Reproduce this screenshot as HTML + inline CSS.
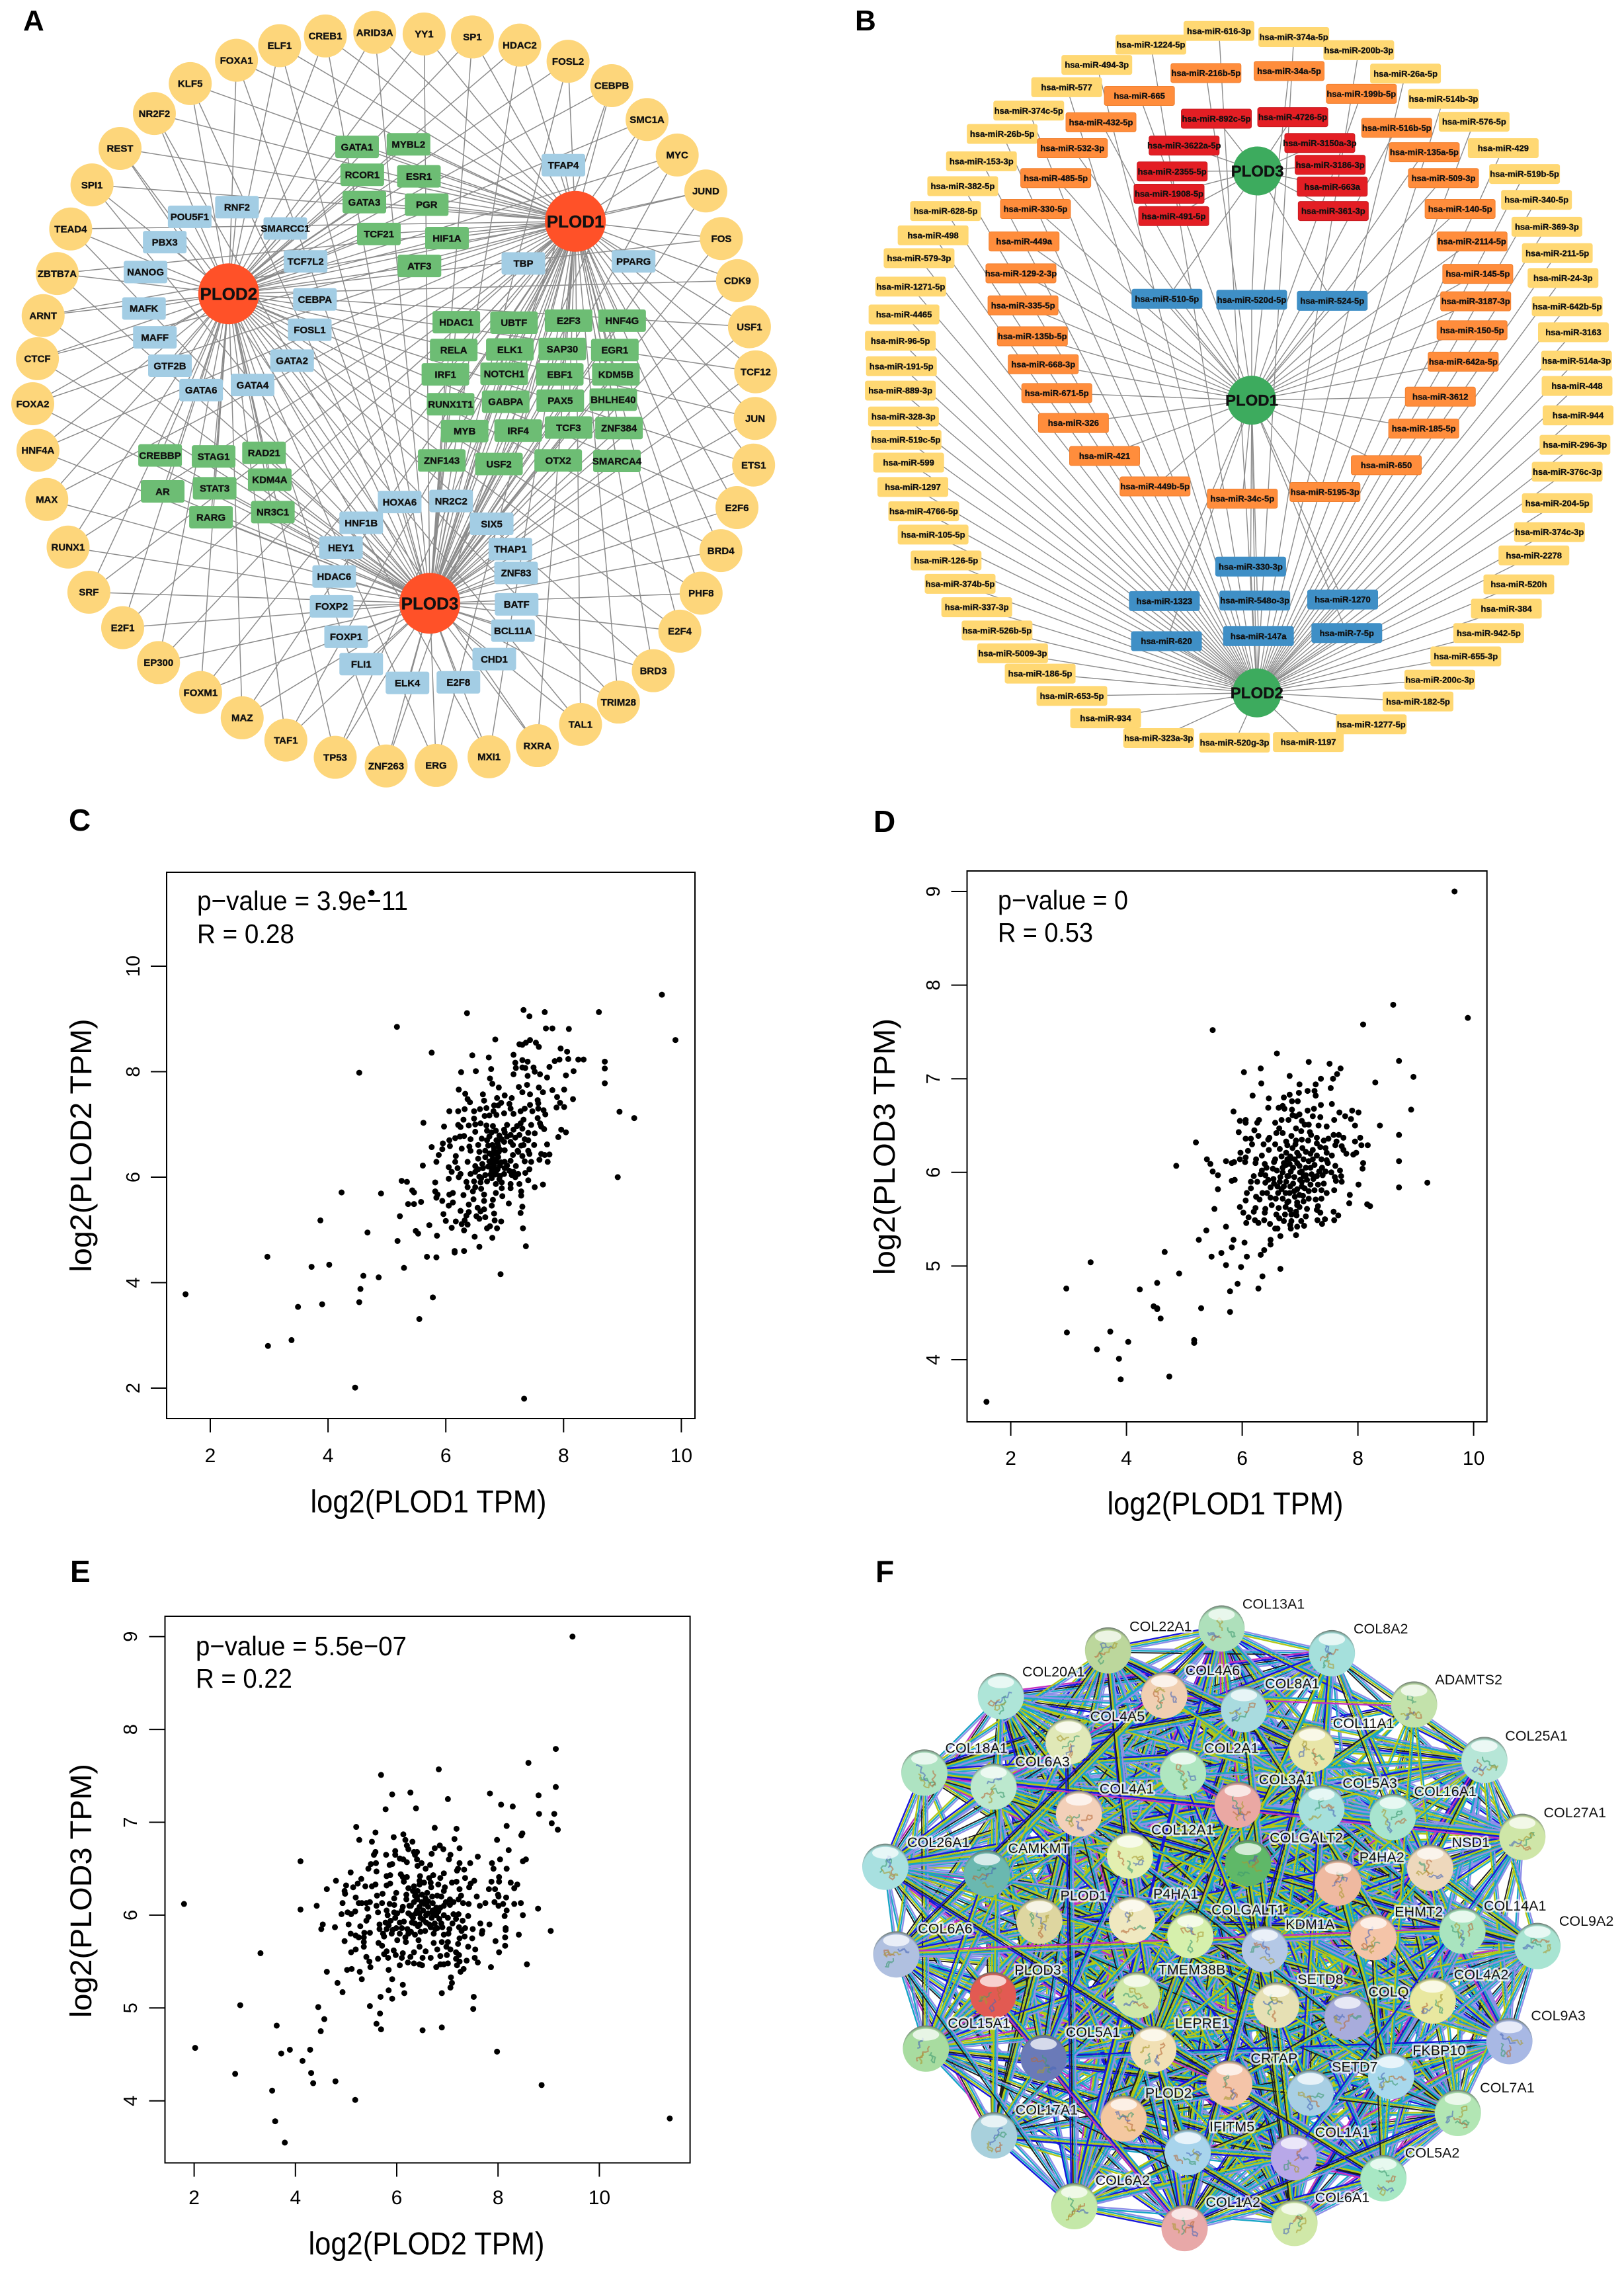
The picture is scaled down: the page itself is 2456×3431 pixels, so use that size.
<!DOCTYPE html>
<html lang="en">
<head>
<meta charset="utf-8">
<title>PLOD network and correlation figure</title>
<style>
html,body{margin:0;padding:0;background:#fff;width:2456px;height:3431px;overflow:hidden}
svg{display:block}
text{font-family:"Liberation Sans",Arial,sans-serif}
</style>
</head>
<body>
<svg id="figure" xmlns="http://www.w3.org/2000/svg" width="2456" height="3431" viewBox="0 0 2456 3431">
<defs id="defs"></defs>
<rect width="2456" height="3431" fill="#ffffff"/>
<g id="panelA"></g>
<g id="panelB"></g>
<g id="panelC"></g>
<g id="panelD"></g>
<g id="panelE"></g>
<g id="panelF"></g>
<text x="35" y="46" font-size="44" font-weight="bold">A</text>
<text x="1293" y="46" font-size="44" font-weight="bold">B</text>
<text x="104" y="1256" font-size="46" font-weight="bold">C</text>
<text x="1321" y="1258" font-size="46" font-weight="bold">D</text>
<text x="106" y="2392" font-size="46" font-weight="bold">E</text>
<text x="1324" y="2392" font-size="46" font-weight="bold">F</text>
</svg>
<script>
// ---------- Scatter data (values in log2 TPM) ----------
const xTicksC = [2,4,6,8,10];
const yTicksC = [2,4,6,8,10];
const xTicksD = [2,4,6,8,10];
const yTicksD = [4,5,6,7,8,9];
const xTicksE = [2,4,6,8,10];
const yTicksE = [4,5,6,7,8,9];

const pointsC = [[1.58,3.78],[2.97,4.49],[2.98,2.80],[3.38,2.91],[3.49,3.54],[3.72,4.30],[3.90,3.59],[3.87,5.18],[4.02,4.34],[4.23,5.71],[4.46,2.01],[4.53,7.98],[4.53,3.63],[4.55,3.88],[4.60,4.13],[4.67,4.95],[4.74,11.39],[4.86,4.10],[4.90,5.69],[5.17,8.85],[5.18,4.79],[5.22,5.26],[5.25,5.93],[5.29,4.28],[5.53,4.93],[5.55,3.31],[5.62,7.03],[5.76,8.36],[5.78,3.72],[6.36,9.11],[7.32,9.17],[7.42,9.05],[7.68,9.13],[8.60,9.13],[9.67,9.46],[9.90,8.60],[7.33,1.80],[8.92,6.00],[8.95,7.24],[9.20,7.12],[8.70,8.19],[8.70,8.06],[8.70,7.78],
[7.70,8.82],[7.81,8.82],[8.09,8.81],[6.84,8.61],[7.25,8.52],[7.30,8.51],[7.36,8.55],[7.43,8.60],[7.53,8.55],[7.58,8.47],[7.95,8.44],[8.06,8.38],[6.45,8.31],[6.73,8.27],[7.15,8.32],[7.18,8.17],[7.30,8.22],[7.39,8.19],[7.19,8.07],[7.30,8.08],[7.35,8.07],[7.49,8.08],[7.51,8.00],[7.15,7.95],[7.39,7.92],[7.60,7.95],[7.72,7.89],[7.76,8.09],[7.85,8.20],[7.93,8.23],[8.08,8.24],[8.25,8.23],[8.34,8.23],[8.04,7.93],[8.17,8.01],[6.26,7.99],[6.51,8.01],[6.77,8.05],[6.75,7.87],[6.79,7.77],[6.90,7.70],[7.24,7.71],[7.38,7.75],[7.30,7.61],[7.43,7.57],[7.58,7.70],[7.65,7.61],[7.81,7.65],[8.01,7.66],[7.89,7.52],[8.16,7.48],[7.94,7.41],[8.01,7.33],[7.88,7.32],[6.22,7.66],[6.33,7.58],[6.37,7.48],[6.41,7.42],[6.63,7.57],[6.65,7.45],[6.87,7.50],[7.00,7.55],[7.12,7.50],[7.56,7.46],[7.57,7.40],[6.94,7.41],[7.08,7.39],[6.82,7.36],[6.89,7.36],[6.69,7.31],[6.58,7.29],[6.32,7.29],[6.21,7.25],[6.06,7.25],[6.48,7.25],[6.81,7.25],[7.10,7.30],[7.27,7.25],[7.34,7.30],[7.43,7.37],[7.47,7.25],[7.57,7.30],[7.66,7.27],[7.69,7.19],[6.66,7.16],[6.74,7.17],[6.86,7.18],[6.99,7.21],[7.15,7.20],[6.48,7.11],[6.30,7.09],[7.56,7.12],[7.60,7.02],[7.62,6.96],[7.67,6.91],[7.32,7.09],[7.27,7.02],[7.45,6.99],[6.59,7.02],[6.39,6.98],[6.21,6.99],[6.25,6.95],[5.97,6.96],[6.50,7.00],[6.69,6.98],[6.80,6.97],[7.04,6.99],[7.21,6.97],[7.96,6.90],[8.04,6.85],[7.91,6.76],[6.50,6.86],[6.70,6.88],[6.85,6.88],[6.99,6.90],[7.15,6.90],[7.30,6.92],[6.74,6.77],[6.91,6.79],[7.04,6.77],[7.25,6.80],[7.40,6.84],[7.51,6.83],[6.16,6.74],[6.24,6.77],[6.31,6.78],[6.06,6.70],[5.95,6.64],[6.07,6.59],[6.42,6.72],[6.61,6.73],[6.99,6.67],[7.10,6.67],[7.34,6.72],[7.40,6.70],[5.76,6.57],[5.94,6.53],[6.27,6.54],[6.40,6.58],[6.55,6.61],[6.79,6.61],[6.89,6.59],[7.14,6.61],[7.32,6.61],[7.50,6.61],[7.72,6.62],[5.88,6.42],[6.17,6.40],[6.42,6.50],[6.57,6.48],[6.67,6.50],[6.82,6.50],[7.00,6.51],[7.40,6.50],[6.78,6.42],[6.55,6.35],[6.67,6.38],[6.89,6.38],[7.14,6.42],[7.23,6.48],[7.30,6.40],[7.42,6.44],[7.62,6.44],[7.68,6.42],[7.76,6.43],[7.59,6.33],[7.73,6.29],[5.84,6.29],[5.61,6.22],[6.16,6.29],[6.37,6.29],[6.78,6.27],[7.00,6.29],[7.10,6.31],[7.34,6.30],[7.45,6.29],[6.05,6.19],[6.20,6.17],[6.50,6.21],[6.63,6.17],[6.80,6.17],[7.00,6.17],[7.19,6.21],[7.42,6.15],[7.35,6.08],[6.10,6.10],[6.25,6.06],[6.42,6.06],[6.50,6.10],[6.67,6.04],[6.85,6.08],[6.99,6.06],[7.12,6.04],[7.23,6.06],[6.05,5.97],[6.22,6.00],[6.57,6.01],[6.78,5.98],[6.91,5.96],[5.82,5.90],[6.35,5.91],[6.48,5.92],[6.59,5.90],[6.70,5.92],[6.85,5.87],[6.95,5.90],[7.10,5.87],[7.25,5.87],[7.40,5.94],[6.37,5.81],[6.50,5.81],[6.60,5.78],[6.95,5.79],[7.10,5.79],[7.51,5.81],[7.65,5.86],[5.82,5.73],[6.46,5.73],[7.28,5.73],[5.86,5.67],[6.06,5.67],[6.12,5.70],[6.30,5.66],[6.65,5.67],[6.85,5.70],[6.96,5.64],[7.28,5.65],[5.84,5.61],[6.47,5.58],[6.80,5.57],[6.65,5.55],[5.34,5.91],[5.43,5.75],[5.46,5.71],[5.36,5.49],[5.46,5.49],[5.58,5.53],[5.94,5.55],[6.12,5.52],[6.05,5.46],[6.39,5.48],[6.78,5.46],[7.07,5.50],[7.30,5.44],[6.54,5.42],[6.65,5.39],[6.25,5.36],[6.39,5.34],[6.59,5.35],[7.27,5.32],[5.96,5.30],[6.35,5.27],[6.82,5.31],[6.52,5.26],[6.57,5.21],[6.67,5.24],[6.00,5.17],[6.17,5.16],[6.32,5.18],[6.83,5.18],[6.94,5.16],[6.27,5.11],[6.37,5.10],[5.72,5.09],[6.10,5.04],[6.70,5.03],[6.75,5.07],[6.87,5.03],[7.31,5.03],[6.31,4.99],[5.49,4.98],[5.85,4.89],[6.49,4.87],[6.79,4.85],[6.57,4.68],[7.36,4.69],[6.15,4.60],[6.15,4.57],[6.31,4.60],[5.68,4.49],[5.84,4.48],[6.93,4.16],
[6.82,6.55],[6.84,6.45],[6.80,6.35],[6.86,6.30],[6.82,6.22],[6.78,6.12],[6.84,6.05],[6.88,6.15],[6.74,6.45],[6.90,6.48],[7.04,6.22],[7.08,6.12],[7.15,6.10],[7.18,6.00],[6.60,5.98],[6.62,6.25],[6.55,6.15],[6.70,6.70],[6.86,6.70],[6.95,6.72],[6.78,6.85],[7.10,6.80],[7.00,6.85],[7.18,6.75],[7.28,6.60],[7.22,6.50],[6.94,6.28],[6.72,6.60],[6.92,6.52],[6.74,6.30],[6.92,6.22],[6.72,6.20],[6.92,6.02],[6.76,6.05],[6.88,6.65]];

const pointsD = [[1.58,3.55],[2.96,4.76],[2.97,4.29],[3.38,5.04],[3.49,4.11],[3.72,4.30],[3.87,4.01],[3.90,3.79],[4.03,4.19],[4.23,4.75],[4.47,4.57],[4.53,4.82],[4.53,4.55],[4.53,4.54],[4.59,4.44],[4.66,5.15],[4.74,3.82],[4.86,6.07],[4.91,4.92],[5.17,4.21],[5.17,4.18],[5.20,6.32],[5.25,5.28],[5.29,4.55],[5.38,5.38],[5.49,7.52],[5.79,4.51],[5.79,4.73],[5.92,4.81],[5.72,5.01],[5.64,5.14],[5.47,5.10],[6.28,4.76],[6.35,4.89],[6.66,4.97],[5.98,4.99],[8.61,7.79],[8.09,7.58],[9.67,9.00],[9.90,7.65],[8.71,7.19],[8.96,7.02],[8.92,6.67],[9.20,5.89],[8.71,6.40],[8.71,6.12],[8.71,5.84],[8.38,6.50],[8.21,5.64],[8.30,6.96],
[6.60,7.27],[7.15,7.18],[7.51,7.16],[7.70,7.11],[7.64,7.05],[7.57,7.00],[7.36,7.00],[6.03,7.07],[6.32,7.11],[6.33,6.95],[6.82,7.03],[6.99,6.94],[7.27,6.94],[7.53,6.90],[7.13,6.87],[7.25,6.87],[6.98,6.85],[7.27,6.82],[6.18,6.82],[6.46,6.79],[6.72,6.80],[6.82,6.83],[6.86,6.76],[6.96,6.76],[7.36,6.72],[7.55,6.73],[6.45,6.69],[6.63,6.69],[6.70,6.71],[6.73,6.68],[6.86,6.67],[7.24,6.68],[7.13,6.66],[7.68,6.64],[7.90,6.66],[8.01,6.64],[5.85,6.65],[7.78,6.60],[7.88,6.57],[7.59,6.56],[7.22,6.60],[7.35,6.59],[6.87,6.61],[6.99,6.62],[6.93,6.60],[5.96,6.55],[6.06,6.56],[6.06,6.53],[6.29,6.56],[6.26,6.53],[6.57,6.53],[6.68,6.56],[6.80,6.56],[7.03,6.55],[7.08,6.51],[7.15,6.51],[7.32,6.50],[7.46,6.49],[7.95,6.50],[6.21,6.45],[5.94,6.43],[6.64,6.47],[6.93,6.47],[7.02,6.44],[7.17,6.43],[6.70,6.42],[6.59,6.42],[6.28,6.39],[6.06,6.36],[6.15,6.36],[6.47,6.37],[6.85,6.39],[7.19,6.40],[7.58,6.40],[7.67,6.40],[7.75,6.37],[8.04,6.37],[6.17,6.30],[6.37,6.30],[6.45,6.35],[6.57,6.30],[6.76,6.33],[6.93,6.34],[7.03,6.35],[7.14,6.34],[7.29,6.37],[7.41,6.34],[7.49,6.36],[7.63,6.33],[7.95,6.33],[8.06,6.29],[8.17,6.29],[7.61,6.29],[7.72,6.28],[7.29,6.31],[6.78,6.29],[6.46,6.24],[6.10,6.23],[6.87,6.26],[7.04,6.26],[7.22,6.24],[7.35,6.27],[7.44,6.26],[7.75,6.24],[5.97,6.21],[6.76,6.21],[6.95,6.21],[7.46,6.21],[7.80,6.20],[7.92,6.19],[7.97,6.21],[6.34,6.18],[6.06,6.16],[5.96,6.14],[6.68,6.17],[6.83,6.17],[7.18,6.20],[7.29,6.18],[7.55,6.18],[6.24,6.14],[5.72,6.12],[5.86,6.11],[5.82,6.10],[6.05,6.11],[6.57,6.14],[6.91,6.14],[7.06,6.14],[7.22,6.14],[7.37,6.14],[7.46,6.13],[6.23,6.10],[6.39,6.09],[6.55,6.11],[6.82,6.09],[7.48,6.10],[8.09,6.10],[5.45,6.09],[5.39,6.14],[5.49,6.01],[5.58,5.97],[5.58,5.82],[5.52,5.61],[5.72,5.42],[7.61,6.07],[6.42,6.05],[6.53,6.04],[6.70,6.05],[6.99,6.07],[7.10,6.05],[8.08,6.04],[6.34,6.02],[6.70,6.00],[6.84,6.01],[7.03,6.01],[7.33,6.01],[7.44,6.01],[7.54,6.00],[7.69,6.02],[6.32,5.98],[6.40,5.97],[6.20,5.96],[6.66,5.95],[6.80,5.96],[7.10,5.97],[7.29,5.96],[7.39,5.97],[7.60,5.95],[7.71,5.96],[5.82,5.91],[5.87,5.92],[6.54,5.93],[6.15,5.90],[6.26,5.90],[6.40,5.89],[6.76,5.90],[7.03,5.90],[7.23,5.93],[7.62,5.91],[7.72,5.90],[8.01,5.87],[6.15,5.83],[6.49,5.84],[6.61,5.85],[6.72,5.85],[6.83,5.85],[7.03,5.85],[7.18,5.87],[7.31,5.87],[7.41,5.88],[6.08,5.78],[6.35,5.78],[6.43,5.78],[6.62,5.78],[6.82,5.78],[6.99,5.76],[7.08,5.83],[7.25,5.81],[7.37,5.81],[7.46,5.78],[7.59,5.81],[7.86,5.76],[6.24,5.74],[6.06,5.70],[6.30,5.71],[6.49,5.73],[6.70,5.72],[6.91,5.74],[7.06,5.69],[7.27,5.71],[7.37,5.72],[7.85,5.67],[8.16,5.66],[6.51,5.65],[6.80,5.69],[6.95,5.65],[7.31,5.64],[5.96,5.63],[6.23,5.62],[6.40,5.61],[6.63,5.62],[6.75,5.63],[6.99,5.63],[7.12,5.61],[7.29,5.60],[6.02,5.57],[6.20,5.58],[6.39,5.57],[6.83,5.60],[6.93,5.58],[7.35,5.57],[7.58,5.58],[6.11,5.52],[6.59,5.55],[6.74,5.55],[6.85,5.55],[6.94,5.54],[7.10,5.53],[7.66,5.54],[6.07,5.46],[6.22,5.49],[6.28,5.46],[6.38,5.49],[6.48,5.45],[6.64,5.51],[6.72,5.48],[6.85,5.48],[7.02,5.48],[7.30,5.49],[7.43,5.50],[7.59,5.49],[6.83,5.44],[7.38,5.45],[6.95,5.42],[7.07,5.43],[6.84,5.40],[6.57,5.40],[6.61,5.40],[6.93,5.33],[6.66,5.32],[6.49,5.28],[6.49,5.23],[5.85,5.28],[6.04,5.25],[5.82,5.20],[6.38,5.17],[6.32,5.12],[6.08,5.10],
[6.60,6.02],[6.76,6.08],[6.88,6.05],[6.95,6.10],[7.00,6.00],[7.06,5.96],[6.90,5.95],[6.78,5.96],[6.65,5.90],[6.88,5.88],[6.95,5.82],[7.12,5.92],[7.15,5.80],[6.68,5.82],[6.55,5.88],[6.75,5.78],[6.90,5.80],[7.05,5.75],[7.20,5.98],[7.18,6.05],[7.25,6.08],[6.85,6.15],[6.98,6.18],[6.78,6.14],[6.92,6.30],[7.10,6.22],[6.58,5.72],[6.78,5.68],[6.45,5.92],[6.95,5.68],[7.00,5.92],[7.15,6.12],[6.72,6.10],[6.65,6.25],[7.38,6.05],[7.15,5.72]];

const pointsE = [[1.80,6.12],[2.02,4.57],[2.81,4.29],[2.91,5.03],[3.31,5.59],[3.54,4.11],[3.60,3.78],[3.63,4.81],[3.72,4.51],[3.79,3.55],[3.89,4.55],[4.10,6.58],[4.10,6.06],[4.14,4.43],[4.29,4.55],[4.31,4.30],[4.35,4.19],[4.45,5.01],[4.57,4.88],[4.50,4.75],[4.79,4.21],[5.18,4.01],[9.47,9.00],[9.14,7.79],[8.60,7.64],[9.14,7.38],[8.80,7.29],[8.81,7.09],[9.11,7.09],[9.06,6.99],[9.18,6.92],[11.39,3.81],[8.86,4.17],[7.98,4.53],[9.04,5.83],[8.79,6.07],[8.57,5.47],[5.69,7.51],[6.83,7.57],[6.27,7.32],[5.91,7.30],[7.01,7.25],[7.84,7.31],[8.06,7.19],[8.29,7.17],[6.38,7.15],[5.78,7.14],
[5.20,6.95],[5.58,6.89],[5.26,6.81],[5.51,6.79],[5.94,6.84],[6.13,6.87],[6.17,6.81],[6.31,6.79],[6.20,6.75],[6.23,6.71],[6.75,6.94],[7.18,6.93],[7.14,6.82],[7.98,6.81],[8.17,6.96],[8.48,6.88],[8.46,6.86],[6.85,6.75],[6.75,6.72],[6.92,6.71],[6.69,6.66],[7.24,6.72],[8.21,6.70],[5.58,6.68],[5.55,6.65],[5.79,6.65],[5.97,6.69],[5.97,6.65],[6.34,6.68],[6.40,6.68],[6.06,6.61],[6.13,6.60],[6.20,6.57],[6.36,6.65],[6.40,6.60],[7.06,6.65],[7.03,6.60],[7.60,6.63],[8.04,6.60],[8.55,6.60],[8.49,6.58],[7.45,6.56],[7.88,6.56],[7.24,6.56],[5.49,6.55],[5.59,6.56],[5.44,6.50],[5.86,6.54],[5.91,6.55],[5.60,6.47],[6.49,6.56],[6.41,6.53],[6.57,6.50],[6.66,6.54],[7.21,6.50],[7.33,6.49],[7.91,6.50],[8.17,6.50],[5.09,6.46],[7.19,6.48],[5.80,6.42],[5.87,6.43],[6.08,6.44],[6.12,6.41],[6.20,6.41],[6.46,6.42],[6.64,6.40],[6.72,6.43],[6.93,6.45],[6.86,6.40],[7.35,6.40],[8.02,6.41],[5.30,6.39],[4.80,6.37],[6.14,6.36],[6.45,6.37],[6.54,6.35],[6.67,6.35],[7.09,6.35],[7.18,6.36],[7.53,6.37],[7.87,6.36],[8.02,6.36],[8.25,6.35],[8.38,6.33],[5.00,6.32],[5.23,6.34],[5.14,6.30],[5.38,6.31],[5.51,6.31],[5.58,6.33],[5.80,6.32],[5.87,6.34],[6.34,6.31],[6.45,6.33],[6.68,6.30],[6.82,6.33],[6.95,6.30],[7.43,6.30],[7.46,6.34],[8.32,6.29],[4.62,6.28],[4.97,6.26],[4.98,6.23],[7.24,6.28],[7.82,6.28],[7.94,6.28],[6.23,6.29],[6.93,6.26],[6.32,6.26],[6.41,6.26],[5.99,6.24],[5.72,6.23],[5.61,6.21],[6.19,6.22],[6.36,6.21],[6.80,6.21],[7.27,6.21],[8.00,6.22],[8.01,6.20],[5.19,6.19],[5.95,6.18],[6.19,6.17],[6.40,6.17],[6.57,6.18],[6.70,6.20],[6.88,6.20],[7.05,6.17],[7.22,6.17],[7.58,6.20],[8.16,6.19],[4.93,6.13],[5.25,6.13],[5.31,6.13],[5.47,6.14],[5.40,6.13],[5.71,6.13],[5.86,6.12],[5.95,6.11],[6.34,6.14],[6.49,6.14],[6.71,6.13],[6.97,6.14],[7.12,6.14],[7.31,6.13],[7.42,6.12],[7.75,6.13],[7.93,6.14],[8.10,6.12],[8.32,6.12],[8.45,6.13],[4.42,6.10],[5.60,6.10],[6.12,6.09],[6.25,6.10],[6.45,6.09],[6.62,6.09],[6.93,6.10],[7.05,6.11],[7.64,6.10],[8.01,6.10],[5.42,6.07],[5.80,6.05],[5.95,6.03],[6.10,6.05],[6.40,6.05],[6.71,6.05],[6.82,6.04],[8.17,6.05],[4.91,6.01],[5.03,6.03],[5.10,6.01],[5.18,6.04],[5.63,6.03],[5.82,6.00],[6.01,6.02],[6.23,6.02],[6.45,6.02],[6.58,6.00],[6.93,6.00],[7.12,6.01],[7.22,6.01],[7.41,5.99],[8.13,5.99],[8.49,6.00],[5.44,5.98],[5.40,5.94],[5.97,5.97],[6.32,5.97],[6.47,5.97],[6.69,5.97],[6.84,5.96],[7.01,5.97],[7.17,5.96],[5.05,5.90],[4.54,5.90],[4.51,5.85],[4.78,5.87],[5.28,5.88],[5.66,5.90],[5.84,5.89],[6.06,5.92],[6.14,5.93],[6.36,5.91],[6.58,5.92],[6.75,5.91],[6.88,5.91],[7.10,5.91],[7.30,5.94],[7.65,5.91],[7.83,5.90],[5.66,5.85],[5.80,5.85],[5.99,5.86],[6.21,5.85],[6.45,5.90],[6.67,5.87],[6.80,5.86],[7.04,5.85],[7.23,5.87],[7.35,5.86],[7.50,5.85],[8.15,5.86],[5.09,5.80],[5.36,5.81],[5.47,5.81],[5.73,5.80],[5.90,5.80],[6.06,5.80],[6.23,5.80],[6.36,5.79],[6.47,5.82],[6.56,5.83],[6.73,5.80],[6.93,5.79],[7.02,5.80],[7.28,5.83],[7.69,5.83],[8.15,5.84],[5.19,5.78],[5.25,5.76],[5.35,5.76],[5.75,5.77],[6.01,5.73],[6.17,5.76],[7.34,5.77],[7.24,5.75],[7.49,5.75],[7.68,5.80],[8.14,5.76],[8.41,5.79],[4.97,5.72],[5.35,5.71],[5.64,5.70],[6.18,5.71],[6.43,5.73],[6.73,5.70],[6.89,5.71],[7.01,5.71],[7.21,5.69],[7.95,5.72],[5.35,5.66],[5.71,5.67],[6.45,5.66],[6.98,5.66],[7.41,5.66],[8.14,5.67],[5.19,5.63],[5.10,5.60],[5.94,5.62],[5.80,5.61],[5.75,5.58],[5.98,5.57],[6.12,5.59],[6.34,5.60],[6.57,5.61],[6.80,5.63],[7.06,5.63],[7.17,5.60],[7.55,5.63],[8.02,5.60],[5.40,5.55],[5.63,5.53],[5.83,5.54],[6.10,5.54],[6.27,5.55],[6.51,5.54],[6.67,5.54],[6.86,5.56],[6.99,5.57],[7.23,5.57],[7.54,5.54],[7.17,5.53],[5.46,5.50],[6.22,5.49],[6.34,5.48],[6.45,5.47],[7.01,5.48],[6.93,5.47],[6.86,5.47],[7.38,5.51],[7.60,5.49],[5.48,5.44],[6.06,5.46],[6.50,5.46],[6.78,5.44],[7.19,5.46],[7.86,5.44],[7.24,5.50],[5.02,5.41],[5.11,5.42],[5.84,5.41],[7.32,5.42],[7.26,5.39],[4.62,5.39],[5.27,5.39],[5.31,5.31],[7.07,5.33],[5.91,5.31],[4.83,5.27],[7.09,5.27],[6.12,5.25],[7.06,5.22],[5.84,5.19],[4.93,5.17],[6.15,5.16],[6.89,5.16],[5.68,5.12],[5.91,5.10],[7.52,5.12],[7.51,4.99],[5.47,5.02],[5.67,4.94],[5.60,4.83],[5.69,4.77],[6.51,4.76],[6.89,4.79],
[6.28,6.00],[6.38,6.02],[6.52,6.05],[6.62,6.02],[6.78,6.00],[6.30,5.92],[6.42,5.88],[6.52,5.95],[6.64,5.90],[6.72,6.02],[6.28,6.10],[6.55,6.12],[6.78,6.08],[6.40,6.20],[6.60,6.24],[5.88,5.94],[5.78,5.92],[6.10,5.86],[5.92,5.84],[6.28,5.82],[6.62,6.15],[6.76,5.85],[6.90,5.87],[6.50,6.22],[6.86,6.08]];

// ---------- Network A node layout ----------
const hubsA = [["PLOD1",1107,437],["PLOD2",440,580],["PLOD3",827,1191]];
const ringA = [["ELF1",538,90],["CREB1",626,71],["ARID3A",721,64],["YY1",816,67],["SP1",909,73],["HDAC2",1000,89],["FOSL2",1093,121],["CEBPB",1177,169],["SMC1A",1245,236],["MYC",1303,306],["JUND",1358,377],["FOS",1388,471],["CDK9",1419,554],["USF1",1442,645],["TCF12",1454,734],["JUN",1453,826],["ETS1",1450,918],["E2F6",1418,1002],["BRD4",1387,1087],["PHF8",1349,1171],["E2F4",1308,1246],["BRD3",1257,1324],["TRIM28",1190,1386],["TAL1",1117,1430],["RXRA",1034,1472],["MXI1",941,1494],["ERG",839,1511],["ZNF263",743,1512],["TP53",645,1495],["TAF1",550,1461],["MAZ",466,1417],["FOXM1",386,1367],["EP300",305,1308],["E2F1",236,1239],["SRF",171,1169],["RUNX1",131,1080],["MAX",90,986],["HNF4A",73,889],["FOXA2",63,797],["CTCF",72,708],["ARNT",83,623],["ZBTB7A",110,540],["TEAD4",136,452],["SPI1",177,365],["REST",231,293],["NR2F2",297,224],["KLF5",366,165],["FOXA1",455,119]];
const blueA1 = [["TFAP4",1084,326],["TBP",1007,520],["PPARG",1219,516]];
const blueA2 = [["RNF2",456,409],["POU5F1",365,428],["PBX3",317,478],["SMARCC1",549,451],["TCF7L2",588,516],["NANOG",280,537],["MAFK",277,609],["MAFF",298,666],["CEBPA",606,591],["FOSL1",596,651],["GATA2",562,712],["GTF2B",327,722],["GATA6",387,770],["GATA4",486,760]];
const blueA3 = [["HOXA6",769,991],["NR2C2",868,989],["HNF1B",695,1032],["SIX5",946,1034],["HEY1",656,1081],["THAP1",982,1084],["ZNF83",993,1131],["HDAC6",643,1138],["BATF",994,1193],["FOXP2",638,1197],["BCL11A",987,1245],["FOXP1",666,1257],["CHD1",951,1301],["FLI1",695,1311],["ELK4",784,1348],["E2F8",882,1347]];
const greenA12 = [["GATA1",687,290],["MYBL2",786,285],["RCOR1",697,345],["ESR1",806,348],["GATA3",701,399],["PGR",821,404],["TCF21",729,462],["HIF1A",860,470],["ATF3",807,525]];
const greenA13 = [["HDAC1",878,636],["UBTF",989,637],["E2F3",1094,633],["HNF4G",1197,633],["RELA",873,691],["ELK1",981,690],["SAP30",1082,689],["EGR1",1183,691],["IRF1",857,739],["NOTCH1",970,738],["EBF1",1077,739],["KDM5B",1185,739],["RUNX1T1",867,798],["GABPA",973,793],["PAX5",1078,791],["BHLHE40",1180,789],["MYB",894,851],["IRF4",997,850],["TCF3",1094,844],["ZNF384",1191,845],["ZNF143",850,909],["USF2",960,916],["OTX2",1074,909],["SMARCA4",1187,910]];
const greenA23 = [["CREBBP",308,899],["STAG1",411,901],["RAD21",508,894],["AR",313,970],["STAT3",413,964],["KDM4A",519,947],["RARG",406,1021],["NR3C1",525,1011]];

// ---------- Network B node layout ----------
const hubsB = [["PLOD3",857,337],["PLOD1",846,789],["PLOD2",856,1366]];
const yellowB = [["hsa-miR-616-3p",783,61],["hsa-miR-374a-5p",927,73],["hsa-miR-1224-5p",652,88],["hsa-miR-200b-3p",1052,99],["hsa-miR-494-3p",548,128],["hsa-miR-26a-5p",1142,145],["hsa-miR-577",490,172],["hsa-miR-514b-3p",1215,195],["hsa-miR-374c-5p",417,218],["hsa-miR-576-5p",1274,240],["hsa-miR-26b-5p",366,264],["hsa-miR-429",1330,292],["hsa-miR-153-3p",326,318],["hsa-miR-519b-5p",1371,343],["hsa-miR-382-5p",290,367],["hsa-miR-340-5p",1394,394],["hsa-miR-628-5p",257,416],["hsa-miR-369-3p",1414,447],["hsa-miR-498",233,464],["hsa-miR-211-5p",1434,499],["hsa-miR-579-3p",206,509],["hsa-miR-24-3p",1445,548],["hsa-miR-1271-5p",190,565],["hsa-miR-642b-5p",1453,604],["hsa-miR-4465",177,620],["hsa-miR-3163",1465,655],["hsa-miR-96-5p",170,672],["hsa-miR-514a-3p",1471,711],["hsa-miR-191-5p",172,722],["hsa-miR-448",1472,761],["hsa-miR-889-3p",170,770],["hsa-miR-944",1474,819],["hsa-miR-328-3p",176,821],["hsa-miR-296-3p",1468,877],["hsa-miR-519c-5p",181,867],["hsa-miR-376c-3p",1453,930],["hsa-miR-599",186,912],["hsa-miR-204-5p",1434,992],["hsa-miR-1297",194,960],["hsa-miR-374c-3p",1419,1049],["hsa-miR-4766-5p",215,1008],["hsa-miR-2278",1389,1095],["hsa-miR-105-5p",233,1054],["hsa-miR-520h",1360,1152],["hsa-miR-126-5p",258,1105],["hsa-miR-384",1336,1200],["hsa-miR-374b-5p",285,1151],["hsa-miR-942-5p",1302,1248],["hsa-miR-337-3p",317,1197],["hsa-miR-655-3p",1258,1294],["hsa-miR-526b-5p",356,1243],["hsa-miR-200c-3p",1208,1340],["hsa-miR-5009-3p",386,1288],["hsa-miR-182-5p",1166,1383],["hsa-miR-186-5p",439,1328],["hsa-miR-1277-5p",1076,1428],["hsa-miR-653-5p",500,1372],["hsa-miR-1197",955,1463],["hsa-miR-934",565,1416],["hsa-miR-520g-3p",813,1464],["hsa-miR-323a-3p",667,1455]];
const orangeB = [["hsa-miR-216b-5p",758,144],["hsa-miR-34a-5p",918,140],["hsa-miR-665",630,189],["hsa-miR-199b-5p",1057,185],["hsa-miR-432-5p",556,241],["hsa-miR-516b-5p",1125,252],["hsa-miR-532-3p",501,292],["hsa-miR-135a-5p",1178,300],["hsa-miR-485-5p",469,351],["hsa-miR-509-3p",1215,351],["hsa-miR-330-5p",430,412],["hsa-miR-140-5p",1247,412],["hsa-miR-449a",408,476],["hsa-miR-2114-5p",1270,476],["hsa-miR-129-2-3p",402,539],["hsa-miR-145-5p",1281,540],["hsa-miR-335-5p",406,602],["hsa-miR-3187-3p",1277,594],["hsa-miR-135b-5p",424,663],["hsa-miR-150-5p",1270,651],["hsa-miR-668-3p",445,718],["hsa-miR-642a-5p",1253,713],["hsa-miR-671-5p",471,775],["hsa-miR-3612",1209,782],["hsa-miR-326",503,834],["hsa-miR-185-5p",1177,845],["hsa-miR-421",563,899],["hsa-miR-650",1105,917],["hsa-miR-449b-5p",660,959],["hsa-miR-5195-3p",987,970],["hsa-miR-34c-5p",828,983]];
const redB = [["hsa-miR-892c-5p",778,234],["hsa-miR-4726-5p",925,231],["hsa-miR-3622a-5p",716,287],["hsa-miR-3150a-3p",977,282],["hsa-miR-2355-5p",693,338],["hsa-miR-3186-3p",997,325],["hsa-miR-1908-5p",687,382],["hsa-miR-663a",1001,368],["hsa-miR-491-5p",696,426],["hsa-miR-361-3p",1003,416]];
const blueB31 = [["hsa-miR-510-5p",683,589],["hsa-miR-520d-5p",846,591],["hsa-miR-524-5p",1001,593]];
const blueB12 = [["hsa-miR-330-3p",844,1117],["hsa-miR-1323",678,1185],["hsa-miR-548o-3p",852,1184],["hsa-miR-1270",1021,1182],["hsa-miR-620",682,1264],["hsa-miR-147a",859,1254],["hsa-miR-7-5p",1029,1248]];

// ---------- Network F nodes: name, sphere x/y, colour, label x/y ----------
const nodesF = [["COL13A1",787,188,"#aee0bb",887,135],["COL22A1",569,235,"#bcd79c",670,183],["COL8A2",999,241,"#a5e0dc",1093,188],["COL20A1",363,333,"#aee5d8",464,280],["COL4A6",677,331,"#f0cfb2",770,277],["COL8A1",830,361,"#a9dbdf",923,306],["ADAMTS2",1157,351,"#c3e2ab",1262,297],["COL4A5",493,430,"#e0e8b7",587,376],["COL11A1",961,446,"#e8e6a8",1060,391],["COL25A1",1292,470,"#b6e6d7",1392,418],["COL18A1",216,497,"#aee3c2",316,444],["COL6A3",349,527,"#bce8ce",443,473],["COL2A1",713,497,"#afe6c0",806,444],["COL4A1",513,585,"#f3d0b9",605,531],["COL3A1",818,566,"#eaa8a3",911,511],["COL5A3",979,574,"#a5e0dc",1072,519],["COL16A1",1116,592,"#a8e4cf",1217,537],["COL27A1",1365,635,"#cfe6a8",1466,582],["COL26A1",141,699,"#a8e0e0",243,646],["CAMKMT",336,713,"#6ab8b0",436,659],["COL12A1",611,675,"#e3efb0",712,619],["COLGALT2",838,691,"#5fb868",950,636],["P4HA2",1011,733,"#efb9a0",1095,678],["NSD1",1188,701,"#eed8bc",1266,646],["COL14A1",1250,836,"#a9e4bf",1351,782],["COL9A2",1394,869,"#a8e4d2",1488,815],["PLOD1",437,815,"#ded6a0",522,760],["P4HA1",615,813,"#efe8c0",699,757],["COLGALT1",727,846,"#d6f0ac",838,791],["KDM1A",870,876,"#b4c8e6",957,822],["EHMT2",1079,850,"#f4c4a8",1166,795],["COL6A6",162,887,"#b0c0e0",256,831],["PLOD3",348,974,"#e25a52",434,920],["TMEM38B",624,974,"#cfe8a8",730,919],["SETD8",892,996,"#e6e0b4",977,940],["COLQ",1029,1021,"#a8acdc",1108,967],["COL4A2",1193,986,"#e9e8a0",1286,930],["COL9A3",1340,1073,"#a8b8e4",1434,1018],["COL15A1",219,1089,"#a8dca0",321,1034],["COL5A1",445,1109,"#6a7ab8",540,1053],["LEPRE1",656,1090,"#f1e0b4",750,1034],["FKBP10",1113,1148,"#a8d8ec",1205,1092],["CRTAP",802,1164,"#f4c4a8",888,1109],["SETD7",958,1184,"#a8cfe4",1043,1128],["COL7A1",1241,1227,"#b2e6b4",1336,1172],["PLOD2",599,1239,"#f4c8a0",685,1184],["COL17A1",350,1275,"#a8d0dc",451,1220],["IFITM5",722,1311,"#a8d4ec",807,1256],["COL1A1",926,1322,"#b8a8e8",1019,1268],["COL5A2",1098,1367,"#a8e8c4",1192,1312],["COL6A2",504,1427,"#c4e8a8",597,1371],["COL1A2",716,1474,"#e8a8a8",809,1418],["COL6A1",927,1463,"#d0e8a8",1019,1408]];
const edgeColorsF = ["#8f8fe8","#17a5c6","#b2c814","#1c1c1c","#1616dc","#c42fc0"];

const NS = "http://www.w3.org/2000/svg";
function mk(parent, tag, attrs, txt){
  const e = document.createElementNS(NS, tag);
  for (const k in attrs) e.setAttribute(k, attrs[k]);
  if (txt !== undefined) e.textContent = txt;
  parent.appendChild(e);
  return e;
}
function slug(s){ return s.toLowerCase().replace(/[^a-z0-9]+/g,'-'); }

// ---------- Scatter drawing ----------
function drawScatter(gid, cfg){
  const g = document.getElementById(gid);
  const sx = v => cfg.x0 + (v - cfg.xRef) * cfg.xUnit;
  const sy = v => cfg.y0 - (v - cfg.yRef) * cfg.yUnit;
  const box = mk(g,'rect',{x:cfg.left,y:cfg.top,width:cfg.right-cfg.left,height:cfg.bottom-cfg.top,fill:'#fff',stroke:'#000','stroke-width':2});
  
  
  cfg.xTicks.forEach(t=>{
    const tick = mk(g,'line',{x1:sx(t),x2:sx(t),y1:cfg.bottom,y2:cfg.bottom+21,stroke:'#000','stroke-width':2});
    
    
    const lab = mk(g,'text',{x:sx(t),y:cfg.xTickBase,'font-size':30,'text-anchor':'middle'},String(t));
    
    
  });
  cfg.yTicks.forEach(t=>{
    const tick = mk(g,'line',{x1:cfg.left-24,x2:cfg.left,y1:sy(t),y2:sy(t),stroke:'#000','stroke-width':2});
    
    
    const lab = mk(g,'text',{x:0,y:0,'font-size':29,'text-anchor':'middle',transform:'translate('+cfg.yTickBase+','+sy(t)+') rotate(-90)'},String(t));
    
    
  });
  cfg.points.forEach(p=>{
    const c = mk(g,'circle',{cx:sx(p[0]),cy:sy(p[1]),r:4.5,fill:'#000'});
    
    
  });
  const xt = mk(g,'text',{x:cfg.xTitleX,y:cfg.xTitleY,'font-size':48,'text-anchor':'middle',textLength:357,lengthAdjust:'spacingAndGlyphs'},cfg.xTitle);
  
  
  const yt = mk(g,'text',{x:0,y:0,'font-size':45,'text-anchor':'middle',textLength:cfg.yTitleLen,lengthAdjust:'spacingAndGlyphs',transform:'translate('+cfg.yTitleX+','+cfg.yTitleY+') rotate(-90)'},cfg.yTitle);
  
  
  const pv = mk(g,'text',{x:cfg.noteX,y:cfg.noteY1,'font-size':41,textLength:cfg.pLen,lengthAdjust:'spacingAndGlyphs'},cfg.pText);
  
  
  const rv = mk(g,'text',{x:cfg.noteX,y:cfg.noteY2,'font-size':41,textLength:cfg.rLen,lengthAdjust:'spacingAndGlyphs'},cfg.rText);
  
  
}
drawScatter('panelC',{points:pointsC,xTicks:xTicksC,yTicks:yTicksC,left:252,right:1051,top:1319,bottom:2145,x0:318,xRef:2,xUnit:89.05,y0:2099,yRef:2,yUnit:79.75,xTickBase:2211,yTickBase:211,xTitle:'log2(PLOD1 TPM)',yTitle:'log2(PLOD2 TPM)',xTitleX:648,xTitleY:2287,yTitleX:138,yTitleY:1732,yTitleLen:383,noteX:298,noteY1:1376,noteY2:1426,pText:'p\u2212value = 3.9e\u221211',rText:'R = 0.28',pLen:319,rLen:147});
drawScatter('panelD',{points:pointsD,xTicks:xTicksD,yTicks:yTicksD,left:1462.5,right:2248.7,top:1317,bottom:2150,x0:1528.6,xRef:2,xUnit:87.5,y0:2056,yRef:4,yUnit:141.6,xTickBase:2215,yTickBase:1421,xTitle:'log2(PLOD1 TPM)',yTitle:'log2(PLOD3 TPM)',xTitleX:1853,xTitleY:2290,yTitleX:1353,yTitleY:1734,yTitleLen:388,noteX:1509,noteY1:1375,noteY2:1424,pText:'p\u2212value = 0',rText:'R = 0.53',pLen:197,rLen:144});
drawScatter('panelE',{points:pointsE,xTicks:xTicksE,yTicks:yTicksE,left:249.5,right:1043.6,top:2444,bottom:3270.5,x0:293.6,xRef:2,xUnit:76.6,y0:3176.7,yRef:4,yUnit:140.4,xTickBase:3333,yTickBase:207,xTitle:'log2(PLOD2 TPM)',yTitle:'log2(PLOD3 TPM)',xTitleX:645,xTitleY:3409,yTitleX:138,yTitleY:2859,yTitleLen:384,noteX:296,noteY1:2503,noteY2:2552,pText:'p\u2212value = 5.5e\u221207',rText:'R = 0.22',pLen:319,rLen:146});

// ---------- Network helpers ----------
function edge(g, x1,y1,x2,y2, col, w){
  const l = mk(g,'line',{x1:x1,y1:y1,x2:x2,y2:y2,stroke:col,'stroke-width':w});
  
  
}
function nodeText(g, name, x, y, fs){
  const t = mk(g,'text',{x:x,y:y+fs*0.35,'font-size':fs,'font-weight':'bold','text-anchor':'middle',fill:'#111',stroke:'#111','stroke-width':0.35},name);
  
  
}
function circNode(g, name, x,y,r, fill, fs){
  const c = mk(g,'circle',{cx:x,cy:y,r:r,fill:fill});
  
  
  nodeText(g,name,x,y,fs);
}
function rectNode(g, name, x,y,w,h, fill, stroke, fs){
  const c = mk(g,'rect',{x:x-w/2,y:y-h/2,width:w,height:h,rx:3,ry:3,fill:fill,stroke:stroke,'stroke-width':1});
  
  
  nodeText(g,name,x,y,fs);
}

// ---------- Panel A ----------
(function(){
  const g = document.getElementById('panelA');
  const X = v => v*0.786, Y = v => v*0.766;
  const E = '#8c8c8c';
  const hub = {};
  hubsA.forEach(h=>{ hub[h[0]] = [X(h[1]),Y(h[2])]; });
  const link = (n, names) => names.forEach(k => edge(g,X(n[1]),Y(n[2]),hub[k][0],hub[k][1],E,1.5));
  ringA.forEach(n=>link(n,['PLOD1','PLOD2','PLOD3']));
  blueA1.forEach(n=>link(n,['PLOD1']));
  blueA2.forEach(n=>link(n,['PLOD2']));
  blueA3.forEach(n=>link(n,['PLOD3']));
  greenA12.forEach(n=>link(n,['PLOD1','PLOD2']));
  greenA13.forEach(n=>link(n,['PLOD1','PLOD3']));
  greenA23.forEach(n=>link(n,['PLOD2','PLOD3']));
  ringA.forEach(n=>circNode(g,n[0],X(n[1]),Y(n[2]),32.5,'#fdd67b',15));
  [blueA1,blueA2,blueA3].forEach(list=>list.forEach(n=>rectNode(g,n[0],X(n[1]),Y(n[2]),65,33,'#a3cde4','#a3cde4',15)));
  greenA12.concat(greenA23).forEach(n=>rectNode(g,n[0],X(n[1]),Y(n[2]),65,33,'#6dbd74','#6dbd74',15));
  greenA13.forEach(n=>rectNode(g,n[0],X(n[1]),Y(n[2]),71,33,'#6dbd74','#6dbd74',15));
  hubsA.forEach(h=>circNode(g,h[0],X(h[1]),Y(h[2]),46,'#ff5128',26));
})();

// ---------- Panel B ----------
(function(){
  const g = document.getElementById('panelB');
  const X = v => 1228+v*0.786, Y = v => v*0.767;
  const E = '#8c8c8c';
  const hub = {};
  hubsB.forEach(h=>{ hub[h[0]] = [X(h[1]),Y(h[2])]; });
  const link = (n, names) => names.forEach(k => edge(g,X(n[1]),Y(n[2]),hub[k][0],hub[k][1],E,1.4));
  yellowB.forEach(n=>link(n,['PLOD2']));
  orangeB.forEach(n=>link(n,['PLOD1']));
  redB.forEach(n=>link(n,['PLOD3']));
  blueB31.forEach(n=>link(n,['PLOD3','PLOD1']));
  blueB12.forEach(n=>link(n,['PLOD1','PLOD2']));
  yellowB.forEach(n=>rectNode(g,n[0],X(n[1]),Y(n[2]),106,29,'#ffd873','#ffd873',13));
  orangeB.forEach(n=>rectNode(g,n[0],X(n[1]),Y(n[2]),106,29,'#ff8d3c','#f08030',13));
  redB.forEach(n=>rectNode(g,n[0],X(n[1]),Y(n[2]),106,29,'#e31e24','#c81a20',13));
  blueB31.concat(blueB12).forEach(n=>rectNode(g,n[0],X(n[1]),Y(n[2]),106,29,'#3f8fc6','#3f8fc6',13));
  hubsB.forEach(h=>circNode(g,h[0],X(h[1]),Y(h[2]),37,'#3dab5e',24));
})();

// ---------- Panel F ----------
(function(){
  const g = document.getElementById('panelF');
  const defs = document.getElementById('defs');
  const X = v => 1228+v*0.787, Y = v => 2330+v*0.705;
  const LAYERS = 12;
  const layers = [];
  for (let L=0;L<LAYERS;L++) layers.push(edgeColorsF.map(()=>[]));
  const isCol = n => /^COL\d/.test(n[0]);
  for (let i=0;i<nodesF.length;i++){
    for (let j=i+1;j<nodesF.length;j++){
      const h = (i*37 + j*101 + i*j*13) % 211;
      const both = isCol(nodesF[i]) && isCol(nodesF[j]);
      if (both ? (h % 4 === 0) : (h % 10 > 2)) continue;
      const x1=X(nodesF[i][1]),y1=Y(nodesF[i][2]),x2=X(nodesF[j][1]),y2=Y(nodesF[j][2]);
      const d=Math.hypot(x2-x1,y2-y1)||1, nx=-(y2-y1)/d, ny=(x2-x1)/d;
      // each interaction is a bundle of parallel coloured lines
      const bundle = both ? [0,1] : [1];
      if (h % 5 < 3) bundle.push(2);
      if (h % 3 === 0) bundle.push(3);
      if (h % 4 === 1) bundle.push(4);
      if (h % 11 === 0) bundle.push(5);
      // interleave bundles so no single colour paints over all the others
      const L = (i*7 + j*5) % LAYERS;
      bundle.forEach((c,k)=>{
        const o = (k-(bundle.length-1)/2)*2.9;
        layers[L][c].push('M'+(x1+nx*o).toFixed(1)+' '+(y1+ny*o).toFixed(1)+'L'+(x2+nx*o).toFixed(1)+' '+(y2+ny*o).toFixed(1));
      });
    }
  }
  layers.forEach(set=>{
    [0,1,2,3,4,5].forEach(c=>{
      const p = mk(g,'path',{d:set[c].join(''),stroke:edgeColorsF[c],'stroke-width':c===3?1.9:2.4,fill:'none'});
      
      
    });
  });
  const glyphCols = ['#3d9a70','#b86a3a','#4a68b8','#a89a30'];
  nodesF.forEach((n,i)=>{
    const gid = 'sph'+i;
    const grad = mk(defs,'radialGradient',{id:gid,cx:'50%',cy:'56%',r:'56%'});
    mk(grad,'stop',{offset:'0%','stop-color':n[3]});
    mk(grad,'stop',{offset:'88%','stop-color':n[3]});
    mk(grad,'stop',{offset:'100%','stop-color':'#66746a'});
    const x=X(n[1]), y=Y(n[2]);
    const s = mk(g,'circle',{cx:x,cy:y,r:35,fill:'url(#'+gid+')'});
    
    
    glyphCols.forEach((col,k)=>{
      let d='', px=x+Math.cos(i*2.3+k*1.6)*10, py=y+5+Math.sin(i*1.9+k*1.1)*10, a=i*0.7+k*1.9;
      for(let t=0;t<11;t++){
        d+=(t?'L':'M')+px.toFixed(1)+' '+py.toFixed(1);
        a+=Math.sin(i*0.9+k*1.3+t*1.7)*1.5;
        px+=Math.cos(a)*4.2; py+=Math.sin(a)*4.2;
        if(Math.hypot(px-x,py-y-5)>22){ a+=Math.PI; px+=Math.cos(a)*6; py+=Math.sin(a)*6; }
      }
      const q = mk(g,'path',{d:d,stroke:col,'stroke-width':2,fill:'none','stroke-opacity':0.6,'stroke-linejoin':'round'});
      
      
    });
    const gloss = mk(g,'ellipse',{cx:x,cy:y-21,rx:20,ry:9,fill:'#ffffff','fill-opacity':0.72});
    
    
  });
  nodesF.forEach(n=>{
    const t = mk(g,'text',{x:X(n[4]),y:Y(n[5])+7.5,'font-size':21.5,'text-anchor':'middle',fill:'#111',stroke:'#ffffff','stroke-width':6,'stroke-opacity':0.72,'paint-order':'stroke','stroke-linejoin':'round'},n[0]);
    
    
  });
})();
</script>
</body>
</html>
